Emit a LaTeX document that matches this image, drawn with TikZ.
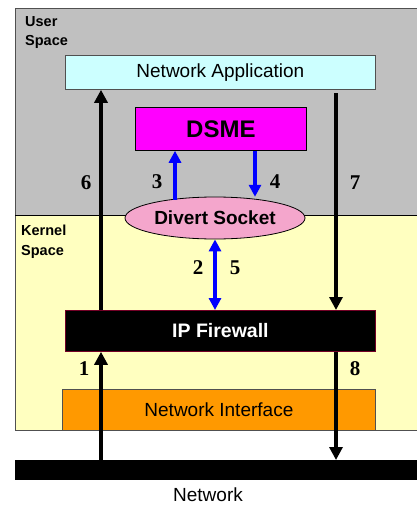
\documentclass[tikz,border=0pt]{standalone}
\usepackage{fontspec}
\setmainfont{Liberation Sans}
\newfontfamily\numfont{Liberation Serif}
\usetikzlibrary{arrows.meta,shapes.geometric}
\definecolor{usergrey}{HTML}{C0C0C0}
\definecolor{kernyel}{HTML}{FFFFC0}
\definecolor{appcyan}{HTML}{CCFFFF}
\definecolor{dsmemag}{HTML}{FF00FF}
\definecolor{sockpink}{HTML}{F4A6CC}
\definecolor{nicorange}{HTML}{FF9900}
\definecolor{bordgrey}{HTML}{505050}
\tikzset{
  x=1pt,y=-1pt,
  boxstyle/.style={draw=bordgrey,line width=0.8pt,inner sep=0pt,anchor=north west,font=\fontsize{19}{19}\selectfont},
  flow/.style={line width=3.2pt,-{Triangle[width=13pt,length=13pt]}},
  blueflow/.style={line width=3.2pt,draw=blue,color=blue,-{Triangle[width=12pt,length=12pt]}},
  num/.style={font=\numfont\bfseries\fontsize{21}{21}\selectfont},
  spacelbl/.style={font=\bfseries\fontsize{14.5}{19.5}\selectfont,align=left,anchor=north west,inner sep=0pt}
}
\begin{document}
\begin{tikzpicture}
\useasboundingbox (0,0) rectangle (417,506);
% backgrounds
\fill[usergrey] (15,8) rectangle (417,215);
\fill[kernyel] (15,215) rectangle (417,430);
\draw[bordgrey,line width=0.8pt] (417,8) -- (15,8) -- (15,430) -- (417,430);
\draw[black,line width=0.8pt] (15,215) -- (417,215);
\node[spacelbl] (us) at (25,16) {User\\Space};
\node[spacelbl] (ks) at (21,225) {Kernel\\Space};
% boxes
\node[boxstyle,fill=appcyan,minimum width=310pt,minimum height=34pt] (app) at (65,55) {Network Application};
\node[boxstyle,draw=black,fill=dsmemag,minimum width=171pt,minimum height=43pt,font=\bfseries\fontsize{24}{24}\selectfont] (dsme) at (135,107) {DSME};
\node[ellipse,draw=black,line width=0.8pt,fill=sockpink,minimum width=180pt,minimum height=42pt,inner sep=0pt,font=\bfseries\fontsize{19}{19}\selectfont] (sock) at (215,218) {Divert Socket};
\node[boxstyle,draw=purple!60!black,fill=black,text=white,minimum width=310pt,minimum height=41pt,font=\bfseries\fontsize{19.5}{19.5}\selectfont] (fw) at (65,310) {IP Firewall};
\node[boxstyle,fill=nicorange,minimum width=313pt,minimum height=41pt] (nic) at (62,389) {Network Interface};
\node[fill=black,inner sep=0pt,anchor=north west,minimum width=402pt,minimum height=20pt] (net) at (15,460) {};
\node[font=\fontsize{19}{19}\selectfont] (netlbl) at (208,495) {Network};
% black flows
\draw[flow] (net.north -| 101,0) -- (fw.south -| 101,0);
\draw[flow] (fw.north -| 101,0) -- (app.south -| 101,0);
\draw[flow] (336,93) coordinate (c7) -- (fw.north -| 336,0);
\draw[flow] (fw.south -| 336,0) -- (net.north -| 336,0);
% blue flows
\draw[blueflow] (sock.north -| 175,0) ++(0,3) -- (dsme.south -| 175,0);
\draw[blueflow] (dsme.south -| 255,0) -- ++(0,46);
\draw[blueflow,{Triangle[width=12pt,length=12pt]}-{Triangle[width=12pt,length=12pt]}] (sock.south) -- (fw.north -| sock.south);
% numbers
\node[num] (n6) at (86,183) {6};
\node[num] (n3) at (157,182) {3};
\node[num] (n4) at (275,182) {4};
\node[num] (n7) at (355,183) {7};
\node[num] (n2) at (198,268) {2};
\node[num] (n5) at (235,268) {5};
\node[num] (n1) at (84,369) {1};
\node[num] (n8) at (355,369) {8};
\end{tikzpicture}
\end{document}
